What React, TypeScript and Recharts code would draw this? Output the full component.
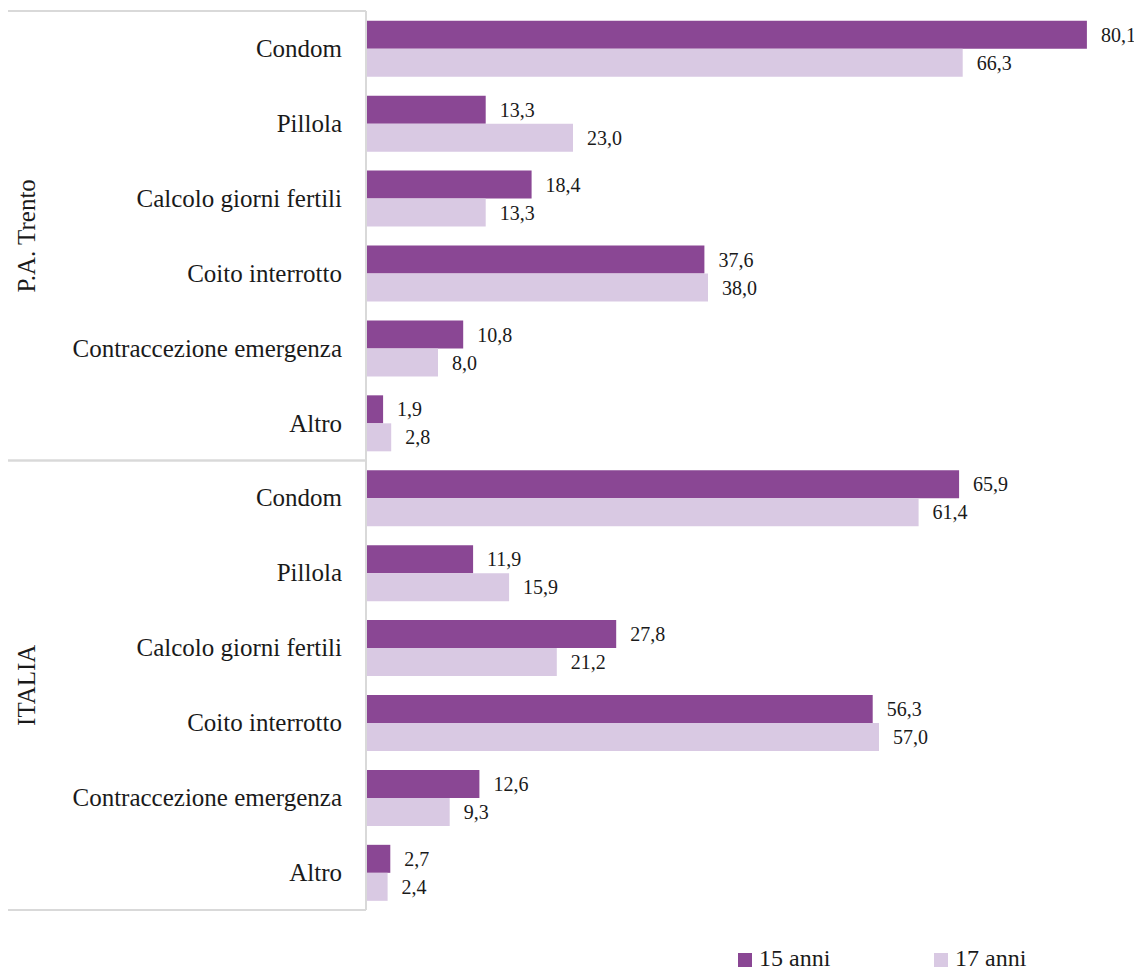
import { BarChart, Bar, XAxis, YAxis, LabelList } from 'recharts';

const GROUPS = ['P.A. Trento', 'ITALIA'];
const METHODS = [
  'Condom',
  'Pillola',
  'Calcolo giorni fertili',
  'Coito interrotto',
  'Contraccezione emergenza',
  'Altro',
];
const TRENTO_15 = [80.1, 13.3, 18.4, 37.6, 10.8, 1.9];
const TRENTO_17 = [66.3, 23.0, 13.3, 38.0, 8.0, 2.8];
const ITALIA_15 = [65.9, 11.9, 27.8, 56.3, 12.6, 2.7];
const ITALIA_17 = [61.4, 15.9, 21.2, 57.0, 9.3, 2.4];

const SERIES = [
  { key: 'a15', name: '15 anni', color: '#8a4794' },
  { key: 'a17', name: '17 anni', color: '#d9c9e3' },
];

const data = [
  ...METHODS.map((m, i) => ({ id: `t${i}`, label: m, group: GROUPS[0], a15: TRENTO_15[i], a17: TRENTO_17[i] })),
  ...METHODS.map((m, i) => ({ id: `i${i}`, label: m, group: GROUPS[1], a15: ITALIA_15[i], a17: ITALIA_17[i] })),
];

const FONT = "'Liberation Serif', 'Times New Roman', serif";
const LINE = '#d9d9d9';
const AXIS_X = 358;

const fmt = (v: any) => Number(v).toFixed(1).replace('.', ',');

const CategoryTick = ({ x, y, payload }: any) => {
  const row = data.find((d) => d.id === payload.value);
  return (
    <text x={x} y={y} textAnchor="end" dominantBaseline="central" fontSize={25} fill="#1a1a1a" fontFamily={FONT}>
      {row ? row.label : payload.value}
    </text>
  );
};

const GroupTick = ({ y, payload }: any) => {
  const half = payload.offset ?? 224.75;
  return (
    <g>
      <line x1={0} x2={AXIS_X} y1={y - half} y2={y - half} stroke={LINE} strokeWidth={2} />
      <line x1={0} x2={AXIS_X} y1={y + half} y2={y + half} stroke={LINE} strokeWidth={2} />
      <text
        x={18}
        y={y}
        textAnchor="middle"
        dominantBaseline="central"
        fontSize={25}
        fill="#1a1a1a"
        fontFamily={FONT}
        transform={`rotate(-90, 18, ${y})`}
      >
        {payload.value}
      </text>
    </g>
  );
};

export default function App() {
  return (
    <div style={{ position: 'relative', width: 1134, height: 961, fontFamily: FONT }}>
      <style>{'html,body{overflow:hidden}'}</style>
      <BarChart
        width={1134}
        height={950}
        data={data}
        layout="vertical"
        margin={{ top: 3, right: 11, bottom: 48, left: 0 }}
        barCategoryGap="13%"
        barGap={0}
      >
        <XAxis type="number" domain={[0, 85]} hide />
        <YAxis
          yAxisId="cat"
          type="category"
          dataKey="id"
          width={308}
          interval={0}
          tickLine={false}
          tickSize={0}
          tickMargin={24}
          axisLine={{ stroke: LINE, strokeWidth: 2 }}
          tick={<CategoryTick />}
        />
        <YAxis
          yAxisId="grp"
          type="category"
          dataKey="group"
          allowDuplicatedCategory={false}
          width={50}
          interval={0}
          tickLine={false}
          axisLine={false}
          tick={<GroupTick />}
        />
        {SERIES.map((s) => (
          <Bar key={s.key} yAxisId="cat" dataKey={s.key} name={s.name} fill={s.color} isAnimationActive={false}>
            <LabelList
              dataKey={s.key}
              position="right"
              offset={14}
              formatter={fmt}
              fontSize={20}
              fill="#1a1a1a"
              fontFamily={FONT}
            />
          </Bar>
        ))}
      </BarChart>
      <div style={{ position: 'absolute', top: 938, left: 730, display: 'flex' }}>
        {SERIES.map((s, i) => (
          <div
            key={s.key}
            style={{ display: 'flex', alignItems: 'center', width: i === 0 ? 196 : 'auto', fontSize: 24, lineHeight: '24px', color: '#1a1a1a', whiteSpace: 'nowrap' }}
          >
            <span style={{ width: 14, height: 14, background: s.color, display: 'inline-block', marginRight: 7, marginTop: 4 }} />
            <span>{s.name}</span>
          </div>
        ))}
      </div>
    </div>
  );
}
